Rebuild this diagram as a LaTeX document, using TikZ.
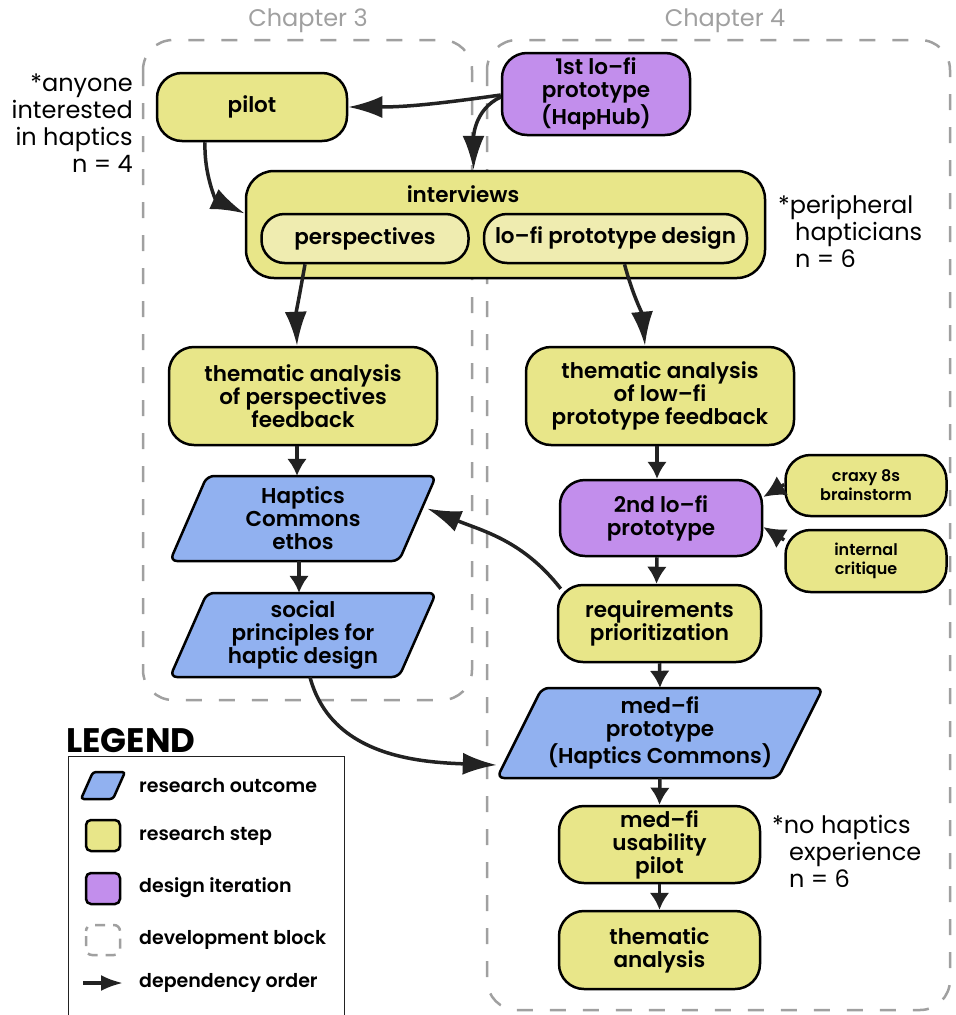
\documentclass[tikz,border=0pt]{standalone}
\usepackage{fontspec}
\setmainfont{Poppins}[BoldFont={Poppins SemiBold}]
\newfontfamily\heavy{Poppins Bold}
\usetikzlibrary{arrows.meta,calc}
\definecolor{yel}{HTML}{E8E689}
\definecolor{ltyel}{HTML}{EFECB0}
\definecolor{pur}{HTML}{C28EEC}
\definecolor{blu}{HTML}{91B1F0}
\definecolor{ink}{HTML}{222222}
\definecolor{dgray}{HTML}{A0A0A0}
\newcommand{\nf}{\fontsize{21.5}{23}\selectfont\bfseries}
\newcommand{\af}{\fontsize{24}{27}\selectfont}
\begin{document}
\begin{tikzpicture}[x=1pt,y=-1pt,
  box/.style={draw=black, line width=2.5pt, rounded corners=25pt, align=center, font=\nf, inner sep=0pt, text=black},
  ybox/.style={box, fill=yel},
  pbox/.style={box, fill=pur},
  pillbox/.style={box, fill=ltyel, rounded corners=23pt},
  outc/.style={align=center, font=\nf, inner sep=0pt, text=black},
  para/.style={draw=black, line width=2.5pt, fill=blu, rounded corners=7pt, line join=round},
  dep/.style={draw=ink, line width=3.5pt, -{Latex[length=34pt,width=22pt]}},
  sdep/.style={draw=ink, line width=3.5pt, -{Latex[length=17pt,width=20pt]}},
  block/.style={draw=dgray, line width=2.5pt, dash pattern=on 16pt off 17pt, rounded corners=30pt},
  ann/.style={font=\af, inner sep=0pt, text=black},
  chap/.style={font=\fontsize{24}{25}\selectfont, text=dgray, inner sep=0pt},
  leg/.style={font=\fontsize{19}{20}\selectfont\bfseries, anchor=west, inner sep=0pt}
]
\useasboundingbox (0,0) rectangle (956,1015);

% development blocks
\draw[block] (143,40) rectangle (472,700);
\draw[block] (487,40) rectangle (950,1010);
\node[chap] (ch3) at (308,21) {Chapter 3};
\node[chap] (ch4) at (725,21) {Chapter 4};

% nodes
\node[ybox, minimum width=190pt, minimum height=68pt] (pilot) at (252,107) {pilot};
\node[pbox, minimum width=188pt, minimum height=82pt] (haphub) at (596,94) {1st lo–fi\\prototype\\(HapHub)};
\node[ybox, minimum width=519pt, minimum height=107pt, rounded corners=28pt] (interviews) at (505.5,224.5) {};
\node[outc] (intlabel) at (463,194) {interviews};
\node[pillbox, minimum width=207pt, minimum height=49pt] (persp) at (365,238.5) {perspectives};
\node[pillbox, minimum width=263pt, minimum height=49pt] (lofid) at (615.5,238.5) {lo–fi prototype design};
\node[ybox, minimum width=268pt, minimum height=98pt] (thmL) at (303,396) {thematic analysis\\of perspectives\\feedback};
\node[ybox, minimum width=268pt, minimum height=98pt] (thmR) at (660,396) {thematic analysis\\of low–fi\\prototype feedback};

% parallelogram outlines and their nodes
\path[para] (170,561) -- (207,476) -- (436,476) -- (399,561) -- cycle;
\path[para] (170,677) -- (207,593) -- (436,593) -- (399,677) -- cycle;
\path[para] (497,778) -- (542,688) -- (823,688) -- (778,778) -- cycle;
\node[outc, minimum width=266pt, minimum height=85pt] (ethos) at (303,518.5) {Haptics\\Commons\\ethos};
\node[outc, minimum width=266pt, minimum height=84pt] (social) at (303,635) {social\\principles for\\haptic design};
\node[outc, minimum width=326pt, minimum height=90pt] (medfi) at (660,733) {med–fi\\prototype\\(Haptics Commons)};

\node[pbox, minimum width=202pt, minimum height=76pt] (p2) at (661,518) {2nd lo–fi\\prototype};
\node[ybox, minimum width=161pt, minimum height=61pt, font=\fontsize{16}{19}\selectfont\bfseries] (craxy) at (866,485.5) {craxy 8s\\brainstorm};
\node[ybox, minimum width=161pt, minimum height=62pt, font=\fontsize{16}{19}\selectfont\bfseries] (crit) at (866,561) {internal\\critique};
\node[ybox, minimum width=203pt, minimum height=77pt] (req) at (659.5,623.5) {requirements\\prioritization};
\node[ybox, minimum width=201pt, minimum height=77pt] (usab) at (659.5,844.5) {med–fi\\usability\\pilot};
\node[ybox, minimum width=201pt, minimum height=78pt] (thm) at (659.5,950) {thematic\\analysis};

% annotations
\node[ann, align=right, anchor=north east] (a1) at (133,74) {*anyone\\interested\\in haptics\\n = 4};
\node[ann, align=left, anchor=north west] (a2) at (778,195) {*peripheral\\\hspace*{17pt}hapticians\\\hspace*{17pt}n = 6};
\node[ann, align=left, anchor=north west] (a3) at (772,815) {*no haptics\\\hspace*{17pt}experience\\\hspace*{17pt}n = 6};

% connectors
\draw[dep] ([yshift=-1pt]haphub.west) to[out=188,in=0] (pilot.east);
\draw[dep] ([yshift=-3pt]haphub.west) to[out=205,in=90] ([xshift=-32pt]interviews.north);
\draw[dep] ([xshift=-47pt]pilot.south) to[out=-92,in=155] ([yshift=11pt]interviews.west);
\draw[dep] ([xshift=-60pt]persp.south) to[out=-100,in=92] ([xshift=-6pt]thmL.north);
\draw[dep] ([xshift=9pt]lofid.south) to[out=-75,in=95] ([xshift=-15pt]thmR.north);
\draw[sdep] ([xshift=-6pt]thmL.south) -- ([xshift=-6pt]ethos.north);
\draw[sdep] ([xshift=-4pt]ethos.south) -- ([xshift=-4pt]social.north);
\draw[sdep] ([xshift=-3pt]thmR.south) -- ([xshift=-4pt]p2.north);
\draw[sdep] ([xshift=-4pt]p2.south) -- ([xshift=-3pt]req.north);
\draw[sdep] (req.south) -- (medfi.north);
\draw[sdep] (medfi.south) -- (usab.north);
\draw[sdep] (usab.south) -- (thm.north);
\draw[dep, -{Latex[length=22pt,width=22pt]}] ([yshift=1pt]craxy.west) -- ([yshift=21pt]p2.east);
\draw[dep, -{Latex[length=22pt,width=22pt]}] ([yshift=21pt]crit.west) -- ([yshift=-9pt]p2.east);
\draw[dep] ([xshift=4pt,yshift=-5pt]req.north west) to[out=128,in=-22] ([xshift=-9pt,yshift=10pt]ethos.east);
\draw[dep] ([xshift=7pt]social.south) to[out=-75,in=178] ([yshift=-32pt]medfi.west);

% legend
\node[font=\fontsize{34}{36}\selectfont\heavy, anchor=south west, inner sep=0pt] (legtitle) at (66,753) {LEGEND};
\draw[line width=1pt, draw=ink] (68,756) rectangle (344,1030);
\path[draw=black, line width=2.5pt, fill=blu, rounded corners=3pt] (81,799) -- (93,772) -- (125,772) -- (113,799) -- cycle;
\node[leg] (l1) at (139,786) {research outcome};
\draw[line width=2.5pt, fill=yel, rounded corners=5pt] (86,820) rectangle (120,851);
\node[leg] (l2) at (139,836) {research step};
\draw[line width=2.5pt, fill=pur, rounded corners=5pt] (86,873) rectangle (120,904);
\node[leg] (l3) at (139,888) {design iteration};
\draw[line width=2.5pt, draw=dgray, dash pattern=on 10pt off 8pt, dash phase=-5pt, rounded corners=6pt] (86,925) rectangle (120,955);
\node[leg] (l4) at (139,940) {development block};
\coordinate (la) at (83,983);
\coordinate (lb) at (123,983);
\draw[dep, -{Latex[length=22pt,width=16pt]}] (la) -- (lb);
\node[leg] (l5) at (139,983) {dependency order};
\end{tikzpicture}
\end{document}
